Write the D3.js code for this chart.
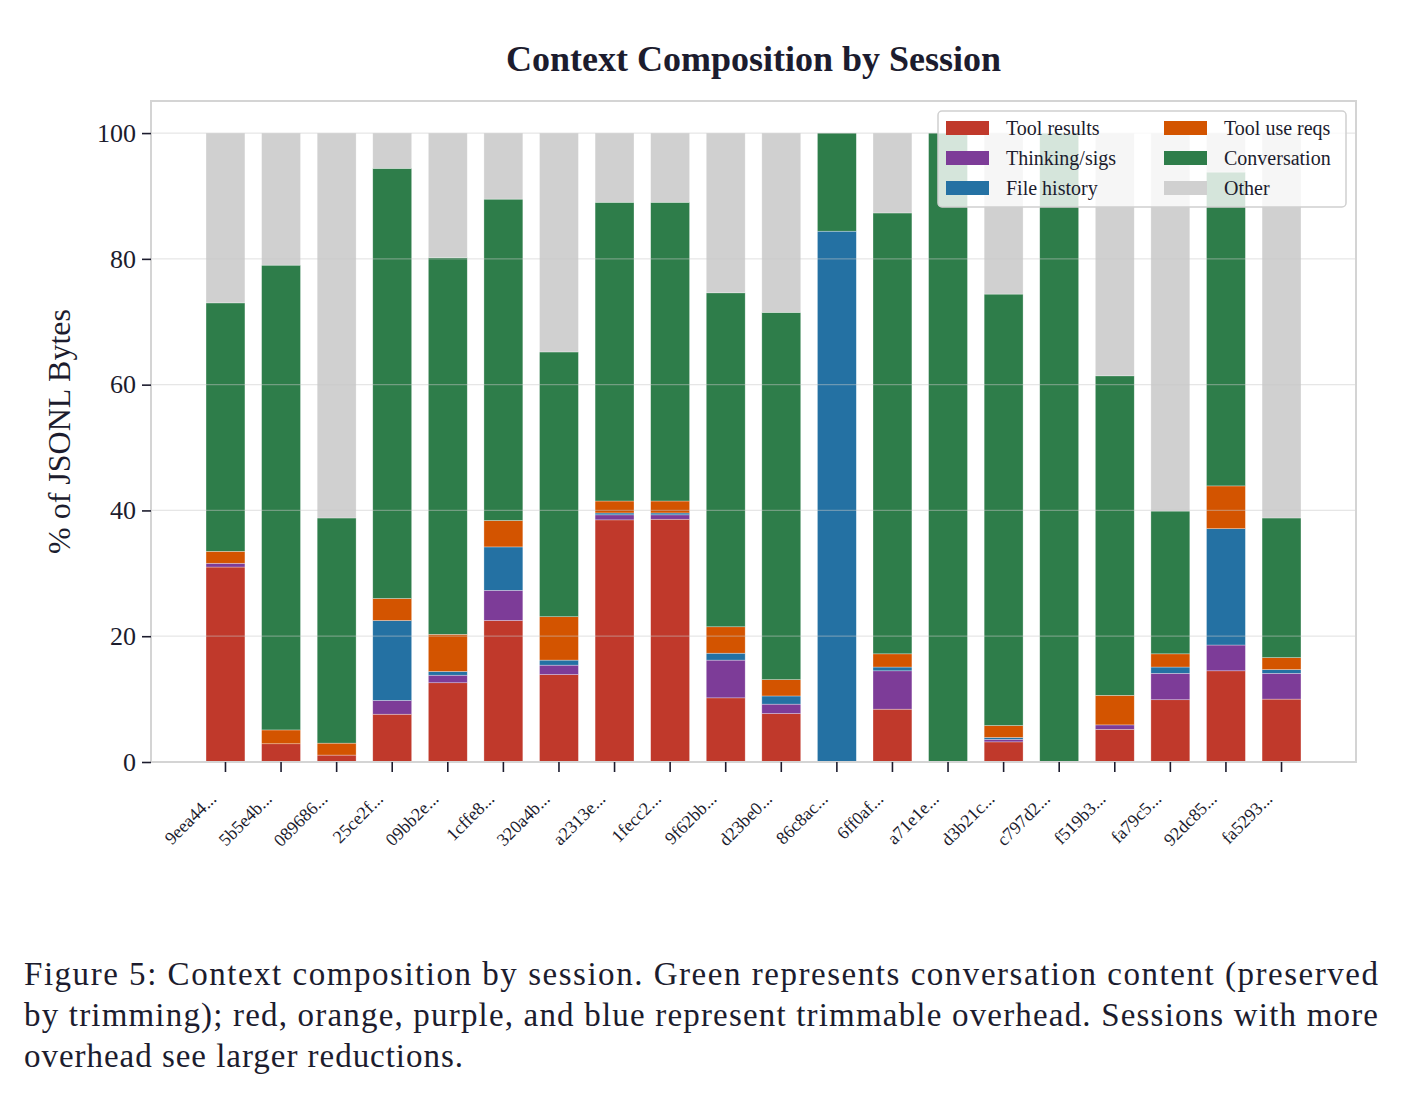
<!DOCTYPE html>
<html>
<head>
<meta charset="utf-8">
<script src="https://cdn.jsdelivr.net/npm/d3@7"></script>
<style>
  body { margin: 0; background: #fff; }
  text { font-family: "Liberation Serif", "Times New Roman", serif; fill: #1c1c2e; }
</style>
</head>
<body>
<div id="chart"></div>
<script>
// session ids (x tick labels)
var sessions = ["9eea44...", "5b5e4b...", "089686...", "25ce2f...", "09bb2e...", "1cffe8...", "320a4b...",
    "a2313e...", "1fecc2...", "9f62bb...", "d23be0...", "86c8ac...", "6ff0af...", "a71e1e...",
    "d3b21c...", "c797d2...", "f519b3...", "fa79c5...", "92dc85...", "fa5293..."];

// % of JSONL bytes per category, one value per session
var toolResults  = [31.0, 2.9, 1.1, 7.6, 12.6, 22.5, 13.9, 38.5, 38.6, 10.2, 7.7, 0, 8.4, 0, 3.2, 0, 5.2, 9.9, 14.5, 10.0];
var thinkingSigs = [0.6, 0, 0, 2.2, 1.2, 4.8, 1.5, 0.8, 0.7, 6.0, 1.5, 0, 6.1, 0, 0.4, 0, 0.7, 4.2, 4.1, 4.1];
var fileHistory  = [0, 0, 0, 12.7, 0.6, 6.9, 0.8, 0.3, 0.3, 1.1, 1.3, 84.4, 0.6, 0, 0.3, 0, 0, 1.0, 18.5, 0.6];
var toolUseReqs  = [1.9, 2.2, 1.9, 3.5, 5.9, 4.2, 6.9, 1.9, 1.9, 4.2, 2.6, 0, 2.1, 0, 1.9, 0, 4.7, 2.1, 6.8, 1.9];
var conversation = [39.5, 73.9, 35.8, 68.4, 59.9, 51.1, 42.1, 47.5, 47.5, 53.1, 58.4, 15.6, 70.1, 100, 68.6, 100, 50.8, 22.7, 49.9, 22.2];
var other        = [27.0, 21.0, 61.2, 5.6, 19.8, 10.5, 34.8, 11.0, 11.0, 25.4, 28.5, 0, 12.7, 0, 25.6, 0, 38.6, 60.1, 6.2, 61.2];

var categories = ["Tool results", "Thinking/sigs", "File history", "Tool use reqs", "Conversation", "Other"];
var colors = ["#c0392b", "#7d3c98", "#2471a3", "#d35400", "#2e7d4a", "#d0d0d0"];
var yTicks = [0, 20, 40, 60, 80, 100];

var caption = [
    "Figure 5: Context composition by session. Green represents conversation content (preserved",
    "by trimming); red, orange, purple, and blue represent trimmable overhead. Sessions with more",
    "overhead see larger reductions."
];

// build table for d3.stack
var series = [toolResults, thinkingSigs, fileHistory, toolUseReqs, conversation, other];
var table = sessions.map(function (s, i) {
    var row = { session: s };
    categories.forEach(function (c, k) { row[c] = series[k][i]; });
    return row;
});

var W = 1403, H = 1098;
var margin = { top: 101, left: 151, right: 47, bottom: 336 };
var width = W - margin.left - margin.right,
    height = H - margin.top - margin.bottom;

var svg = d3.select("#chart").append("svg")
    .attr("width", W)
    .attr("height", H);

// title
svg.append("text")
    .attr("x", margin.left + width / 2)
    .attr("y", 71)
    .attr("text-anchor", "middle")
    .style("font-size", "36px")
    .style("font-weight", "bold")
    .text("Context Composition by Session");

var g = svg.append("g")
    .attr("transform", "translate(" + margin.left + "," + margin.top + ")");

var x = d3.scaleBand()
    .domain(sessions)
    .range([0, width])
    .paddingInner(0.3)
    .paddingOuter(0.99);

var y = d3.scaleLinear()
    .domain([0, 105.1])
    .range([height, 0]);

var stack = d3.stack().keys(categories);
var layers = stack(table);

// bars
g.selectAll(".layer")
    .data(layers)
    .enter().append("g")
    .attr("class", "layer")
    .attr("fill", function (d, i) { return colors[i]; })
    .selectAll("rect")
    .data(function (d) { return d; })
    .enter().append("rect")
    .attr("x", function (d) { return x(d.data.session); })
    .attr("width", x.bandwidth())
    .attr("y", function (d) { return y(d[1]); })
    .attr("height", function (d) { return y(d[0]) - y(d[1]); })
    .attr("stroke", "#ffffff")
    .attr("stroke-opacity", 0.5)
    .attr("stroke-width", 0.6);

// grid lines over bars
g.selectAll(".grid")
    .data(yTicks)
    .enter().append("line")
    .attr("class", "grid")
    .attr("x1", 0)
    .attr("x2", width)
    .attr("y1", function (d) { return y(d); })
    .attr("y2", function (d) { return y(d); })
    .attr("stroke", "#c8c8c8")
    .attr("stroke-opacity", 0.45)
    .attr("stroke-width", 1.2);

// frame
g.append("rect")
    .attr("width", width)
    .attr("height", height)
    .attr("fill", "none")
    .attr("stroke", "#d4d4d4")
    .attr("stroke-width", 2);

// y axis
var yAxis = g.append("g")
    .call(d3.axisLeft(y).tickValues(yTicks).tickSize(9).tickPadding(6));
yAxis.select(".domain").remove();
yAxis.selectAll("line").attr("stroke", "#1c1c2e").attr("stroke-width", 1.6);
yAxis.selectAll("text").style("font-size", "26px").attr("fill", "#1c1c2e");

// x axis
var xAxis = g.append("g")
    .attr("transform", "translate(0," + height + ")")
    .call(d3.axisBottom(x).tickSize(10).tickPadding(6));
xAxis.select(".domain").remove();
xAxis.selectAll("line").attr("stroke", "#1c1c2e").attr("stroke-width", 1.6);
xAxis.selectAll("text")
    .style("font-size", "18px")
    .attr("fill", "#1c1c2e")
    .attr("text-anchor", "end")
    .attr("x", 0)
    .attr("y", 0)
    .attr("dy", "0")
    .attr("transform", "translate(-8,38) rotate(-45)");

// y label
svg.append("text")
    .attr("transform", "translate(70," + (margin.top + height / 2) + ") rotate(-90)")
    .attr("text-anchor", "middle")
    .style("font-size", "32px")
    .text("% of JSONL Bytes");

// legend
var legend = svg.append("g").attr("transform", "translate(938,111)");
legend.append("rect")
    .attr("width", 408)
    .attr("height", 96)
    .attr("rx", 4)
    .attr("fill", "#ffffff")
    .attr("fill-opacity", 0.8)
    .attr("stroke", "#d0d0d0")
    .attr("stroke-width", 1.5);

var item = legend.selectAll(".item")
    .data(categories)
    .enter().append("g")
    .attr("class", "item")
    .attr("transform", function (d, i) {
        return "translate(" + (i < 3 ? 8 : 226) + "," + (10 + (i % 3) * 30) + ")";
    });
item.append("rect")
    .attr("width", 43)
    .attr("height", 14)
    .attr("fill", function (d, i) { return colors[i]; });
item.append("text")
    .attr("x", 60)
    .attr("y", 14)
    .style("font-size", "20px")
    .text(function (d) { return d; });

// caption
svg.selectAll(".caption")
    .data(caption)
    .enter().append("text")
    .attr("class", "caption")
    .attr("x", 24)
    .attr("y", function (d, i) { return 985 + i * 41; })
    .style("font-size", "33px")
    .attr("fill", "#111")
    .attr("textLength", function (d, i) { return i < 2 ? 1354 : 439; })
    .attr("lengthAdjust", "spacing")
    .text(function (d) { return d; });
</script>
</body>
</html>
